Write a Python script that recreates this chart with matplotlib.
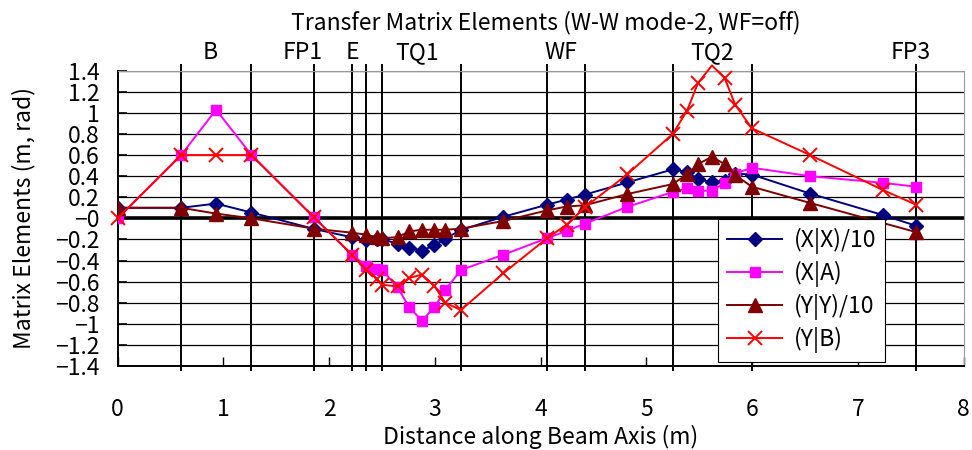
import numpy as np
import matplotlib
matplotlib.use("Agg")
import matplotlib.pyplot as plt
from matplotlib.ticker import FuncFormatter

plt.rcParams["font.family"] = ["Noto Sans CJK JP", "DejaVu Sans"]

# positions along the beam axis (m)
s = [0, 0.6, 0.93, 1.265, 1.855, 2.215, 2.35, 2.45, 2.5, 2.647, 2.758, 2.877,
     2.993, 3.097, 3.245, 3.647, 4.062, 4.245, 4.418, 4.817, 5.248, 5.383,
     5.487, 5.619, 5.739, 5.84, 5.996, 6.547, 7.24, 7.547]
# (Y|Y) has no entry at 7.24 m
s_yy = s[:28] + s[29:]

xx10 = [0.1, 0.1, 0.14, 0.055, -0.1, -0.18, -0.205, -0.2, -0.2, -0.24, -0.28,
        -0.305, -0.257, -0.193, -0.11, 0.015, 0.13, 0.178, 0.225, 0.34, 0.464,
        0.44, 0.37, 0.346, 0.35, 0.425, 0.415, 0.235, 0.03, -0.07]
xa = [0.0, 0.6, 1.03, 0.6, 0.01, -0.345, -0.45, -0.48, -0.49, -0.655, -0.845,
      -0.97, -0.845, -0.68, -0.49, -0.345, -0.187, -0.12, -0.05, 0.108, 0.25,
      0.283, 0.262, 0.262, 0.336, 0.425, 0.48, 0.40, 0.336, 0.30]
yy10 = [0.1, 0.1, 0.045, 0.0, -0.098, -0.136, -0.155, -0.178, -0.188, -0.178,
        -0.124, -0.108, -0.108, -0.108, -0.098, -0.025, 0.076, 0.112, 0.124,
        0.23, 0.325, 0.416, 0.514, 0.584, 0.514, 0.41, 0.30, 0.146, -0.13]
yb = [0.0, 0.6, 0.6, 0.6, 0.01, -0.345, -0.486, -0.574, -0.63, -0.645, -0.565,
      -0.533, -0.638, -0.80, -0.87, -0.52, -0.187, -0.06, 0.105, 0.416, 0.80,
      1.02, 1.283, 1.45, 1.33, 1.076, 0.854, 0.6, 0.267, 0.13]

# element boundaries and names
boundaries = [0.6, 1.265, 1.855, 2.215, 2.35, 2.5, 3.245, 4.062, 4.418,
              5.248, 5.996, 7.547]
elements = ["B", "FP1", "E", "TQ1", "WF", "TQ2", "FP3"]
element_pos = [0.87, 1.75, 2.215, 2.833, 4.19, 5.616, 7.5]

ymin, ymax = -1.4, 1.4

fig = plt.figure(figsize=(9.72, 4.5), dpi=100)
ax = fig.add_axes([0.1211, 0.1867, 0.8704, 0.6562])

fs = 16.5
ax.set_xlim(0, 8)
ax.set_ylim(ymin, ymax)
ax.set_yticks(np.arange(-1.4, 1.41, 0.2))
ax.set_xticks(range(0, 9))
ax.yaxis.set_major_formatter(
    FuncFormatter(lambda v, p: ("%g" % round(v, 1)).replace("-", "\u2212")))
ax.tick_params(axis="y", direction="in", length=6.5, width=1.2, pad=13,
               labelsize=fs)
ax.tick_params(axis="x", direction="in", length=6.5, width=1.0, pad=23,
               labelsize=fs)

# horizontal grid, thick zero line, element boundaries
ax.grid(axis="y", color="black", linewidth=0.9)
ax.axhline(0, color="black", linewidth=2.6, zorder=2)
for b in boundaries:
    ax.axvline(b, ymin=-0.015, ymax=1.018, color="black", linewidth=1.4,
               clip_on=False, zorder=1.5)

for side in ["top", "right"]:
    ax.spines[side].set_color("#999999")
for side in ["left", "bottom"]:
    ax.spines[side].set_color("black")
    ax.spines[side].set_linewidth(1.4)

ax.plot(s, xx10, color="#000080", marker="D", markersize=7.5, linewidth=1.4,
        label="(X|X)/10", zorder=3)
ax.plot(s, xa, color="#FF00FF", marker="s", markersize=7.5, linewidth=1.4,
        label="(X|A)", zorder=3)
ax.plot(s_yy, yy10, color="#800000", marker="^", markersize=9.5, linewidth=1.4,
        label="(Y|Y)/10", zorder=3)
ax.plot(s, yb, color="#FF0000", marker="x", markersize=10, markeredgewidth=1.4,
        linewidth=1.4, label="(Y|B)", zorder=3, clip_on=False,
        markevery=[i for i, v in enumerate(yb) if v <= ymax])

for name, pos in zip(elements, element_pos):
    ax.text(pos, 1.06, name, transform=ax.get_xaxis_transform(),
            ha="center", va="center", fontsize=fs)

leg = ax.legend(loc="upper left", bbox_to_anchor=(0.7096, 0.498),
                borderaxespad=0, fontsize=fs, fancybox=False, framealpha=1,
                edgecolor="black", handlelength=2.4, labelspacing=0.3,
                borderpad=0.4, handletextpad=0.5)
leg.get_frame().set_linewidth(0.8)
leg.set_zorder(5)

ax.set_xlabel("Distance along Beam Axis (m)", fontsize=fs, labelpad=3)
ax.set_ylabel("Matrix Elements (m, rad)", fontsize=fs, labelpad=14)
fig.text(0.562, 0.95, "Transfer Matrix Elements (W-W mode-2, WF=off)",
         ha="center", va="center", fontsize=fs)

fig.savefig("out.png", dpi=100)
